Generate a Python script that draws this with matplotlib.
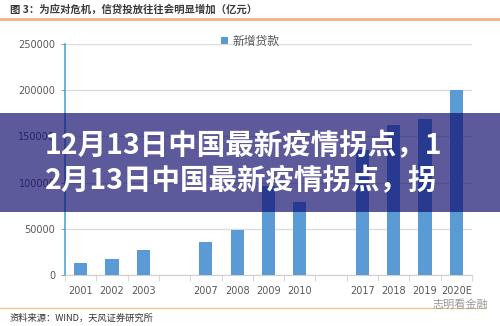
import numpy as np
import matplotlib.pyplot as plt
from matplotlib.patches import Rectangle

plt.rcParams['font.family'] = ['Noto Sans CJK SC', 'DejaVu Sans']

# data (亿元), empty strings are the gaps in the category axis
years = ['2001', '2002', '2003', '', '2007', '2008', '2009', '2010', '',
         '2017', '2018', '2019', '2020E']
loans = [13000, 17500, 27000, 0, 36000, 49000, 95900, 79500, 0,
         135300, 162000, 168500, 200000]
yticks = [0, 50000, 100000, 150000, 200000, 250000]

W, H = 500, 326
fig = plt.figure(figsize=(W / 100, H / 100), dpi=100)

ax = fig.add_axes([65 / W, 1 - 275 / H, (472 - 65) / W, (275 - 44) / H])
x = np.arange(len(years))
mask = np.array([y != '' for y in years])
ax.bar(x[mask], np.array(loans)[mask], width=0.42, color='#5b9bd5',
       label='新增贷款', zorder=3)

ax.set_xlim(-0.5, len(years) - 0.5)
ax.set_ylim(0, 250000)
ax.set_yticks(yticks)
ax.set_yticklabels([str(v) for v in yticks], fontsize=7, color='#595959',
                   family='DejaVu Sans')
ax.set_xticks(x)
ax.set_xticklabels(years, fontsize=7, color='#595959', family='DejaVu Sans')
ax.set_xticks(np.arange(-0.5, len(years)), minor=True)
ax.tick_params(axis='x', which='major', length=0, pad=8)
ax.tick_params(axis='x', which='minor', length=4, color='#d0d0d0')
ax.tick_params(axis='y', length=3, color='#a0a0a0', pad=4)
ax.grid(axis='y', color='#dcdcdc', lw=1, zorder=0)
for s in ['top', 'right']:
    ax.spines[s].set_visible(False)
ax.spines['bottom'].set_color('#d0d0d0')
ax.spines['left'].set_color('#4fa8cc')
ax.spines['left'].set_linewidth(1.2)

fig.legend(loc='center', bbox_to_anchor=(0.5, 1 - 41 / H), frameon=False,
           fontsize=8.5, handlelength=0.6, handleheight=0.6,
           labelcolor='#595959', handletextpad=0.4)

# header and footer
fig.text(10 / W, 1 - 10 / H, '图 3：为应对危机，信贷投放往往会明显增加（亿元）',
         fontsize=7.5, color='#3a3a3a', va='center', weight='bold')
fig.add_artist(plt.Line2D([0, 1], [1 - 19 / H] * 2, color='#f4b183', lw=2))
fig.add_artist(plt.Line2D([0, 485 / W], [1 - 308 / H] * 2, color='#e8c890', lw=1))
fig.text(10 / W, 1 - 318 / H, '资料来源：WIND，天风证券研究所', fontsize=6.7,
         color='#333333', va='center')
fig.text(488 / W, 1 - 305 / H, '志明看金融', fontsize=8, color='#9a9a9a',
         ha='right', va='center')

# purple overlay banner
fig.add_artist(Rectangle((0, 1 - 212 / H), 1, (212 - 113) / H,
                         transform=fig.transFigure, color=(16 / 255, 12 / 255, 110 / 255),
                         alpha=0.68, lw=0, zorder=10))
fig.text(45 / W, 1 - 146 / H, '12月13日中国最新疫情拐点，1', fontsize=20.5,
         color='white', weight='heavy', va='center', zorder=11)
fig.text(45 / W, 1 - 181 / H, '2月13日中国最新疫情拐点，拐', fontsize=20.5,
         color='white', weight='heavy', va='center', zorder=11)

fig.savefig('out.png', dpi=100)
